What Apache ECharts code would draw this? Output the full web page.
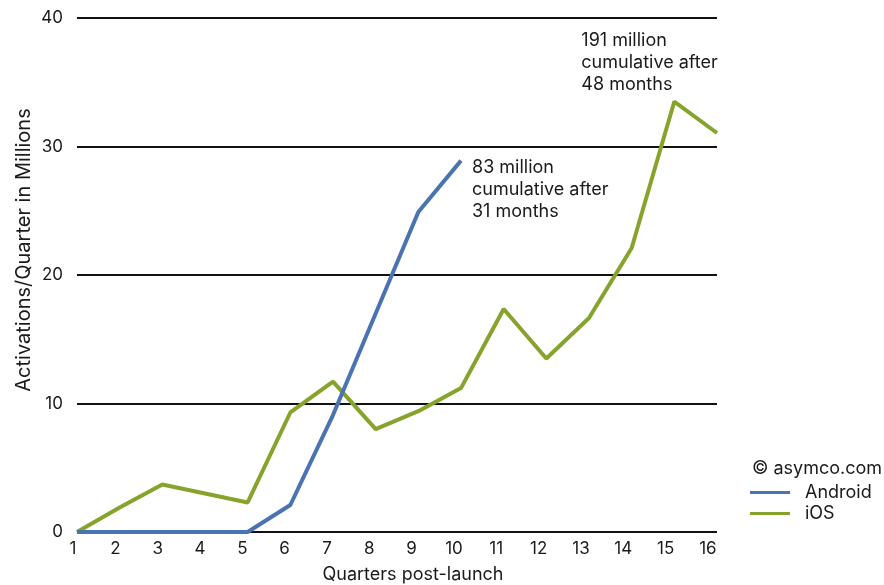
<!DOCTYPE html>
<html>
<head>
<meta charset="utf-8">
<script src="https://cdn.jsdelivr.net/npm/echarts@6/dist/echarts.min.js"></script>
<style>
  html, body { margin: 0; padding: 0; background: #fff; }
  #chart { width: 884px; height: 585px; }
</style>
</head>
<body>
<div id="chart"></div>
<script>
// ---- data ----
const quarters = [1, 2, 3, 4, 5, 6, 7, 8, 9, 10, 11, 12, 13, 14, 15, 16];
const androidValues = [0, 0, 0, 0, 0, 2.1, 9.1, 17.0, 24.9, 28.9];
const iosValues = [0, 1.9, 3.7, 3.0, 2.3, 9.3, 11.7, 8.0, 9.4, 11.2, 17.35, 13.5, 16.65, 22.1, 33.5, 31.05];
const yTicks = [0, 10, 20, 30, 40];
const androidNote = ['83 million', 'cumulative after', '31 months'];
const iosNote = ['191 million', 'cumulative after', '48 months'];
const seriesNames = ['Android', 'iOS'];
const copyrightText = '\u00A9 asymco.com';
const xTitle = 'Quarters post-launch';
const yTitle = 'Activations/Quarter in Millions';

const FONT = 'Inter, "Liberation Sans", sans-serif';
const TXT = '#1a1a1a';
const BLUE = '#4a73b1';
const GREEN = '#86a42b';

const androidData = androidValues.map((v, i) => [quarters[i], v]);
const iosData = iosValues.map((v, i) => [quarters[i], v]);

const chart = echarts.init(document.getElementById('chart'));
chart.setOption({
  animation: false,
  backgroundColor: '#ffffff',
  textStyle: { fontFamily: FONT },
  grid: { left: 77, right: 167, top: 18, bottom: 53, containLabel: false, outerBoundsMode: 'none' },
  xAxis: [
    {
      type: 'value',
      min: quarters[0],
      max: quarters[quarters.length - 1],
      interval: 1,
      axisLine: { show: false },
      axisTick: { show: false },
      splitLine: { show: false },
      axisLabel: { show: false },
      name: xTitle,
      nameLocation: 'middle',
      nameGap: 34,
      nameTextStyle: { fontFamily: FONT, fontSize: 18, color: TXT, padding: [0, 0, 0, 32] }
    },
    {
      type: 'value',
      position: 'bottom',
      min: quarters[0],
      max: 16.12,
      interval: 1,
      axisLine: { show: false },
      axisTick: { show: false },
      splitLine: { show: false },
      axisLabel: {
        show: true,
        margin: 8,
        fontFamily: FONT,
        fontSize: 17,
        color: TXT,
        padding: [0, 8, 0, 0],
        formatter: v => (quarters.indexOf(v) >= 0 ? String(v) : '')
      }
    }
  ],
  yAxis: {
    type: 'value',
    min: yTicks[0],
    max: yTicks[yTicks.length - 1],
    interval: 10,
    axisLine: { show: false },
    axisTick: { show: false },
    axisLabel: { margin: 14, fontFamily: FONT, fontSize: 17, color: TXT },
    splitLine: { show: true, lineStyle: { color: '#111111', width: 2 } }
  },
  legend: {
    orient: 'vertical',
    left: 750,
    top: 482,
    padding: 0,
    icon: 'rect',
    itemWidth: 40,
    itemHeight: 3,
    itemGap: 0,
    data: seriesNames,
    textStyle: { fontFamily: FONT, fontSize: 18, color: TXT, lineHeight: 21, padding: [0, 0, 0, 10] }
  },
  graphic: [
    {
      type: 'text',
      left: 752,
      top: 460,
      style: { text: copyrightText, font: '18px ' + FONT, fill: TXT }
    },
    {
      type: 'text',
      x: 24,
      y: 250,
      rotation: Math.PI / 2,
      style: { text: yTitle, font: '20px ' + FONT, fill: TXT, align: 'center', verticalAlign: 'middle' }
    }
  ],
  series: [
    {
      name: seriesNames[0],
      type: 'line',
      data: androidData,
      showSymbol: false,
      symbol: 'none',
      lineStyle: { color: BLUE, width: 4 },
      itemStyle: { color: BLUE },
      z: 3,
      markPoint: {
        symbol: 'circle',
        symbolSize: 0,
        data: [{ coord: androidData[androidData.length - 1] }],
        label: {
          show: true,
          position: [11, -4],
          align: 'left',
          verticalAlign: 'top',
          formatter: androidNote.join('\n'),
          fontFamily: FONT,
          fontSize: 18,
          lineHeight: 22,
          color: TXT
        }
      }
    },
    {
      name: seriesNames[1],
      type: 'line',
      data: iosData,
      showSymbol: false,
      symbol: 'none',
      lineStyle: { color: GREEN, width: 4 },
      itemStyle: { color: GREEN },
      z: 2,
      markPoint: {
        symbol: 'circle',
        symbolSize: 0,
        data: [{ coord: iosData[14] }],
        label: {
          show: true,
          position: [-93, -72],
          align: 'left',
          verticalAlign: 'top',
          formatter: iosNote.join('\n'),
          fontFamily: FONT,
          fontSize: 18,
          lineHeight: 22,
          color: TXT
        }
      }
    }
  ]
});
</script>
</body>
</html>
